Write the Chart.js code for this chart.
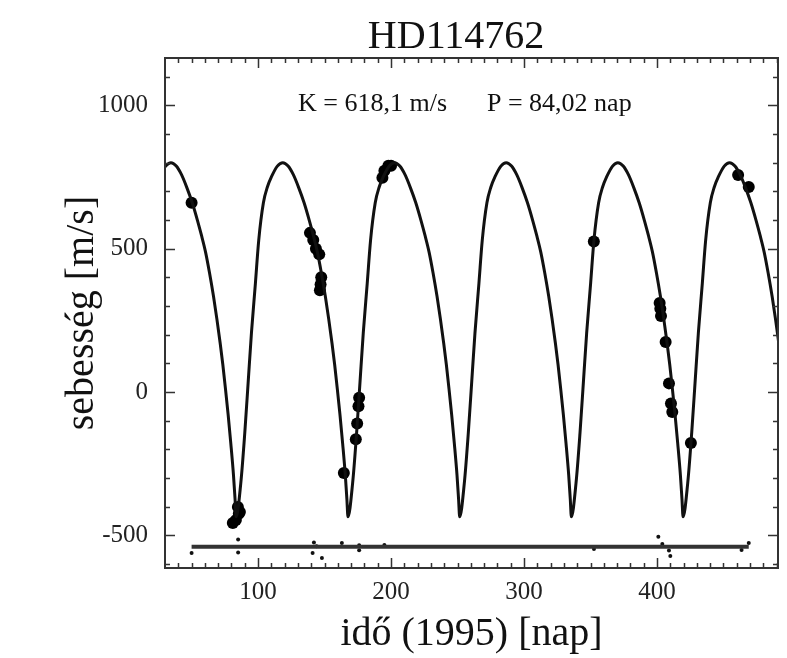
<!DOCTYPE html>
<html>
<head>
<meta charset="utf-8">
<script src="https://cdn.jsdelivr.net/npm/chart.js@4.4.0/dist/chart.umd.min.js"></script>
<style>
  body { margin: 0; background: #fff; }
</style>
</head>
<body>
<canvas id="myChart" width="787" height="658"></canvas>
<script>
// fitted orbit curve (days, m/s)
const curveX = [28, 30.5, 34.5,
  38.5, 42.5, 46.5, 50.5, 54.5, 57.5, 60.5, 63.5, 66.5, 69, 71.5, 73.5, 75.5, 77.5, 79.5, 81.5, 82.7, 83.5, 87, 90, 92.5, 95, 98, 100.5, 104, 107, 110, 114.5, 118.6,
  122.6, 126.6, 130.6, 134.6, 138.6, 141.6, 144.6, 147.6, 150.6, 153.1, 155.6, 157.6, 159.6, 161.6, 163.6, 165.6, 166.8, 167.6, 171.1, 174.1, 176.6, 179.1, 182.1, 184.6, 188.1, 191.1, 194.1, 198.6, 202.6,
  206.6, 210.6, 214.6, 218.6, 222.6, 225.6, 228.6, 231.6, 234.6, 237.1, 239.6, 241.6, 243.6, 245.6, 247.6, 249.6, 250.8, 251.6, 255.1, 258.1, 260.6, 263.1, 266.1, 268.6, 272.1, 275.1, 278.1, 282.6, 286.6,
  290.6, 294.6, 298.6, 302.6, 306.6, 309.6, 312.6, 315.6, 318.6, 321.1, 323.6, 325.6, 327.6, 329.6, 331.6, 333.6, 334.8, 335.6, 339.1, 342.1, 344.6, 347.1, 350.1, 352.6, 356.1, 359.1, 362.1, 366.6, 370.6,
  374.6, 378.6, 382.6, 386.6, 390.6, 393.6, 396.6, 399.6, 402.6, 405.1, 407.6, 409.6, 411.6, 413.6, 415.6, 417.6, 418.8, 419.6, 423.1, 426.1, 428.6, 431.1, 434.1, 436.6, 440.1, 443.1, 446.1, 450.6, 454.6,
  458.6, 462.6, 466.6, 470.6, 474.6, 477.6, 480.6, 483.6, 486.6, 489.1, 491.6]
const curveV = [770, 788, 800,
  788, 757, 712, 660, 597, 545, 488, 415, 333, 255, 170, 95, 10, -80, -180, -290, -375, -435, -318, -143, 31, 205, 380, 530, 660, 715, 750, 788, 800,
  788, 757, 712, 660, 597, 545, 488, 415, 333, 255, 170, 95, 10, -80, -180, -290, -375, -435, -318, -143, 31, 205, 380, 530, 660, 715, 750, 788, 800,
  788, 757, 712, 660, 597, 545, 488, 415, 333, 255, 170, 95, 10, -80, -180, -290, -375, -435, -318, -143, 31, 205, 380, 530, 660, 715, 750, 788, 800,
  788, 757, 712, 660, 597, 545, 488, 415, 333, 255, 170, 95, 10, -80, -180, -290, -375, -435, -318, -143, 31, 205, 380, 530, 660, 715, 750, 788, 800,
  788, 757, 712, 660, 597, 545, 488, 415, 333, 255, 170, 95, 10, -80, -180, -290, -375, -435, -318, -143, 31, 205, 380, 530, 660, 715, 750, 788, 800,
  788, 757, 712, 660, 597, 545, 488, 415, 333, 255, 170]

// measured velocities
const obsX = [50, 139, 141.5, 143.5, 146, 147.5, 147, 146.5, 164.5, 173.5, 174.5, 175.5, 176,
  81, 83.3, 84.8, 85.5, 86.3, 193.5, 195, 198, 200, 352.5,
  402, 402.5, 403, 406.5, 409, 410.5, 411.5, 425.5, 461, 469]
const obsV = [660, 555, 530, 500, 480, 400, 375, 355, -283, -165, -110, -50, -20,
  -457, -447, -401, -425, -419, 747, 772, 789, 789, 525,
  310, 290, 265, 174, 30, -40, -70, -178, 757, 715]

// residuals (O-C), plotted shifted to -540
const residLineX = [50, 469]
const residLineV = [-540, -540]
const residX = [50, 85, 85, 142, 144, 141, 148, 163, 176, 176, 195, 352.6, 401, 404, 409, 410, 463.6, 469]
const residV = [-562, -515, -560, -525, -538, -562, -579, -527, -535, -552, -534, -548, -505, -530, -553, -572, -551, -527]

const xTickValues = [100, 200, 300, 400]
const yTickValues = [-500, 0, 500, 1000]

const titleText = 'HD114762'
const annotK = 'K = 618,1 m/s'
const annotP = 'P = 84,02 nap'

function toPoints(xs, ys) {
  let pts = []
  for (let i = 0; i < xs.length; i++) {
    pts.push({x: xs[i], y: ys[i]})
  }
  return pts
}

const serif = '"Liberation Serif", "Times New Roman", serif'
Chart.defaults.font.family = serif
Chart.defaults.color = '#222'

// frame, inward ticks, title and the K / P text
const frameTicks = {
  id: 'frameTicks',
  afterDraw(chart) {
    const {ctx, chartArea: a, scales: {x, y}} = chart
    ctx.save()
    ctx.strokeStyle = '#333'
    ctx.lineWidth = 1.5
    for (let v = 40; v <= 490; v += 10) {
      const px = Math.round(x.getPixelForValue(v)) + 0.5
      const len = v % 100 === 0 ? 10 : 5
      ctx.beginPath()
      ctx.moveTo(px, a.bottom); ctx.lineTo(px, a.bottom - len)
      ctx.moveTo(px, a.top); ctx.lineTo(px, a.top + len)
      ctx.stroke()
    }
    for (let v = -600; v <= 1100; v += 100) {
      const py = Math.round(y.getPixelForValue(v)) + 0.5
      const len = v % 500 === 0 ? 10 : 5
      ctx.beginPath()
      ctx.moveTo(a.left, py); ctx.lineTo(a.left + len, py)
      ctx.moveTo(a.right, py); ctx.lineTo(a.right - len, py)
      ctx.stroke()
    }
    ctx.lineWidth = 2
    ctx.strokeRect(a.left, a.top, a.right - a.left, a.bottom - a.top)

    ctx.fillStyle = '#111'
    ctx.textBaseline = 'alphabetic'
    ctx.textAlign = 'center'
    ctx.font = '40px ' + serif
    ctx.fillText(titleText, a.left + 291, 48)

    ctx.textAlign = 'left'
    ctx.font = '26px ' + serif
    ctx.fillText(annotK, a.left + 133, a.top + 53)
    ctx.fillText(annotP, a.left + 322, a.top + 53)
    ctx.restore()
  }
}

const ctx = document.getElementById('myChart').getContext('2d')

const config = {
  type: 'scatter',
  data: {
    datasets: [
      {
        label: 'curve',
        data: toPoints(curveX, curveV),
        showLine: true,
        borderColor: '#111',
        borderWidth: 3,
        pointRadius: 0,
        cubicInterpolationMode: 'monotone',
        clip: 0
      },
      {
        label: 'resid line',
        data: toPoints(residLineX, residLineV),
        showLine: true,
        borderColor: '#333',
        borderWidth: 4,
        pointRadius: 0
      },
      {
        label: 'resid',
        data: toPoints(residX, residV),
        pointRadius: 2,
        backgroundColor: '#111',
        borderWidth: 0
      },
      {
        label: 'obs',
        data: toPoints(obsX, obsV),
        pointRadius: 6,
        backgroundColor: '#000',
        borderWidth: 0
      }
    ]
  },
  options: {
    responsive: false,
    animation: false,
    devicePixelRatio: 1,
    layout: { padding: { top: 58, right: 9, left: 0, bottom: 0 } },
    plugins: {
      legend: { display: false },
      tooltip: { enabled: false }
    },
    scales: {
      x: {
        type: 'linear',
        min: 30,
        max: 491,
        afterBuildTicks: (scale) => { scale.ticks = xTickValues.map(v => ({value: v})) },
        afterFit: (scale) => { scale.height = 90 },
        grid: { display: false, drawTicks: false },
        border: { display: false },
        ticks: { padding: 9, font: { size: 25 }, color: '#222', maxRotation: 0, callback: (v) => String(v) },
        title: { display: true, text: 'idő (1995) [nap]', font: { size: 40 }, color: '#111', padding: { top: 0, bottom: 0 } }
      },
      y: {
        type: 'linear',
        min: -614,
        max: 1165,
        afterBuildTicks: (scale) => { scale.ticks = yTickValues.map(v => ({value: v})) },
        afterFit: (scale) => { scale.width = 165 },
        grid: { display: false, drawTicks: false },
        border: { display: false },
        ticks: { padding: 17, font: { size: 25 }, color: '#222', callback: (v) => String(v) },
        title: { display: true, text: 'sebesség [m/s]', font: { size: 40 }, color: '#111', padding: { top: 58, bottom: 0 } }
      }
    }
  },
  plugins: [frameTicks]
}

const myChart = new Chart(ctx, config)
</script>
</body>
</html>
